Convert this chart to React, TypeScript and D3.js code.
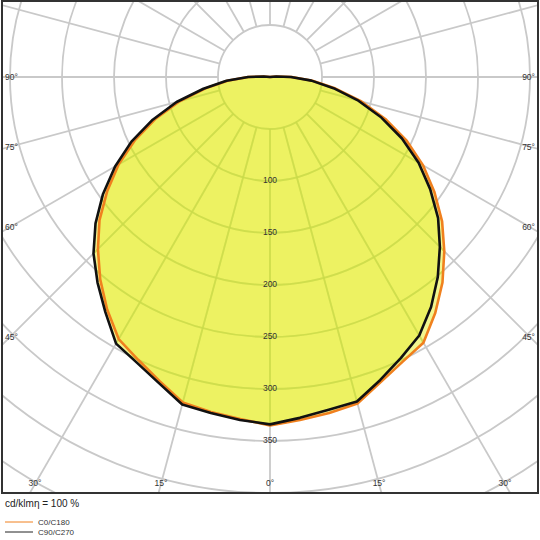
import React from 'react';
import * as d3 from 'd3';

// gamma angles (deg from nadir) and intensities in cd/klm
const angles = [0, 5, 10, 15, 20, 25, 30, 35, 40, 45, 50, 55, 60, 65, 70, 75, 80, 85, 90, 95, 100];
const c0 = [335, 331, 328, 325, 312, 302, 295, 277, 258, 237, 216, 193, 170, 145, 118, 91, 64, 41, 21, 6, 0];
const c180 = [335, 330, 327, 324, 311, 300, 291, 273, 254, 234, 214, 191, 168, 143, 117, 90, 63, 41, 21, 6, 0];
const c90 = [334, 329, 325, 323, 310, 298, 287, 270, 251, 231, 211, 188, 165, 140, 114, 88, 62, 40, 20, 6, 0];
const c270 = [334, 331, 328, 326, 313, 303, 296, 276, 258, 240, 219, 196, 172, 147, 120, 93, 65, 42, 21, 6, 0];

const rings = [50, 100, 150, 200, 250, 300, 350, 400, 450, 500, 550];
const ringLabels = [100, 150, 200, 250, 300, 350];
const spokes = d3.range(0, 360, 15);
const sideLabels = [90, 75, 60, 45];
const bottomLabels = [-30, -15, 0, 15, 30];

const W = 540;
const H = 540;
const cx = 270;
const cy = 77;
const frame = { x: 2, y: 1, w: 536, h: 492 };

const rScale = d3.scaleLinear().domain([0, 50]).range([0, 52]);
const rad = (d: number) => (d * Math.PI) / 180;

// left half uses the second plane, right half the first
function outline(left: number[], right: number[]) {
  const pts: [number, number][] = [];
  for (let i = angles.length - 1; i >= 0; i--) pts.push([Math.PI + rad(angles[i]), rScale(left[i])]);
  for (let i = 0; i < angles.length; i++) pts.push([Math.PI - rad(angles[i]), rScale(right[i])]);
  return d3.lineRadial<[number, number]>()
    .angle(d => d[0])
    .radius(d => d[1])
    .curve(d3.curveLinearClosed)(pts) as string;
}

const Grid = ({ stroke, opacity }: { stroke: string; opacity: number }) => {
  const rMin = rScale(50);
  return (
    <g stroke={stroke} strokeOpacity={opacity} strokeWidth={1.8} fill="none">
      {rings.map(v => (
        <circle key={v} cx={cx} cy={cy} r={rScale(v)} />
      ))}
      {spokes.map(a => (
        <line
          key={a}
          x1={cx + rMin * Math.sin(rad(a))}
          y1={cy + rMin * Math.cos(rad(a))}
          x2={cx + 800 * Math.sin(rad(a))}
          y2={cy + 800 * Math.cos(rad(a))}
        />
      ))}
    </g>
  );
};

const App = () => {
  const orangePath = outline(c180, c0);
  const blackPath = outline(c270, c90);
  const fillColor = '#eaf045';
  const orange = '#f0801e';
  const font = 'Liberation Sans, Arial, sans-serif';
  const shift = `translate(${cx},${cy})`;

  return (
    <div style={{ position: 'absolute', left: 0, top: 0 }}>
      <svg width={W} height={H} style={{ display: 'block', background: '#fff' }}>
        <defs>
          <clipPath id="frameClip">
            <rect x={frame.x} y={frame.y} width={frame.w} height={frame.h} />
          </clipPath>
          <clipPath id="fillClip">
            <path d={orangePath} transform={shift} />
            <path d={blackPath} transform={shift} />
          </clipPath>
        </defs>

        <g clipPath="url(#frameClip)">
          <Grid stroke="#c9c9c9" opacity={1} />

          {/* fills */}
          <g transform={shift}>
            <path d={orangePath} fill={fillColor} fillOpacity={0.6} />
            <path d={blackPath} fill={fillColor} fillOpacity={0.6} />
          </g>

          {/* grid seen through the fill */}
          <g clipPath="url(#fillClip)">
            <Grid stroke="#c8da4a" opacity={0.75} />
          </g>

          {/* curves */}
          <g transform={shift} fill="none" strokeLinejoin="round">
            <path d={orangePath} stroke={orange} strokeWidth={2.6} />
            <path d={blackPath} stroke="#111" strokeWidth={2.6} />
          </g>
        </g>

        {/* ring labels */}
        {ringLabels.map(v => (
          <text
            key={v}
            x={cx}
            y={cy + rScale(v)}
            textAnchor="middle"
            dominantBaseline="middle"
            fontFamily={font}
            fontSize={8.5}
            fill="#333"
          >
            {v}
          </text>
        ))}

        {/* angle labels on the sides */}
        {sideLabels.map(a => {
          const y = cy + (cx - 10) * (Math.cos(rad(a)) / Math.sin(rad(a))) + 1;
          return (
            <g key={a} fontFamily={font} fontSize={8.5} fill="#333" dominantBaseline="middle">
              <text x={5} y={y}>{`${a}°`}</text>
              <text x={535} y={y} textAnchor="end">{`${a}°`}</text>
            </g>
          );
        })}
        {bottomLabels.map(a => (
          <text
            key={a}
            x={cx + (484 - cy) * Math.tan(rad(a))}
            y={484}
            textAnchor="middle"
            dominantBaseline="middle"
            fontFamily={font}
            fontSize={8.5}
            fill="#333"
          >
            {`${Math.abs(a)}°`}
          </text>
        ))}

        <rect x={frame.x} y={frame.y} width={frame.w} height={frame.h} fill="none" stroke="#333" strokeWidth={2} />

        {/* units and legend */}
        <text x={5} y={504} dominantBaseline="middle" fontFamily={font} fontSize={10} fill="#222">
          cd/klmη = 100 %
        </text>
        <line x1={5} x2={33} y1={522} y2={522} stroke={orange} strokeWidth={1} />
        <text x={38} y={523} dominantBaseline="middle" fontFamily={font} fontSize={8} fill="#333">C0/C180</text>
        <line x1={5} x2={33} y1={532} y2={532} stroke="#222" strokeWidth={1} />
        <text x={38} y={533} dominantBaseline="middle" fontFamily={font} fontSize={8} fill="#333">C90/C270</text>
      </svg>
    </div>
  );
};

export default App;
